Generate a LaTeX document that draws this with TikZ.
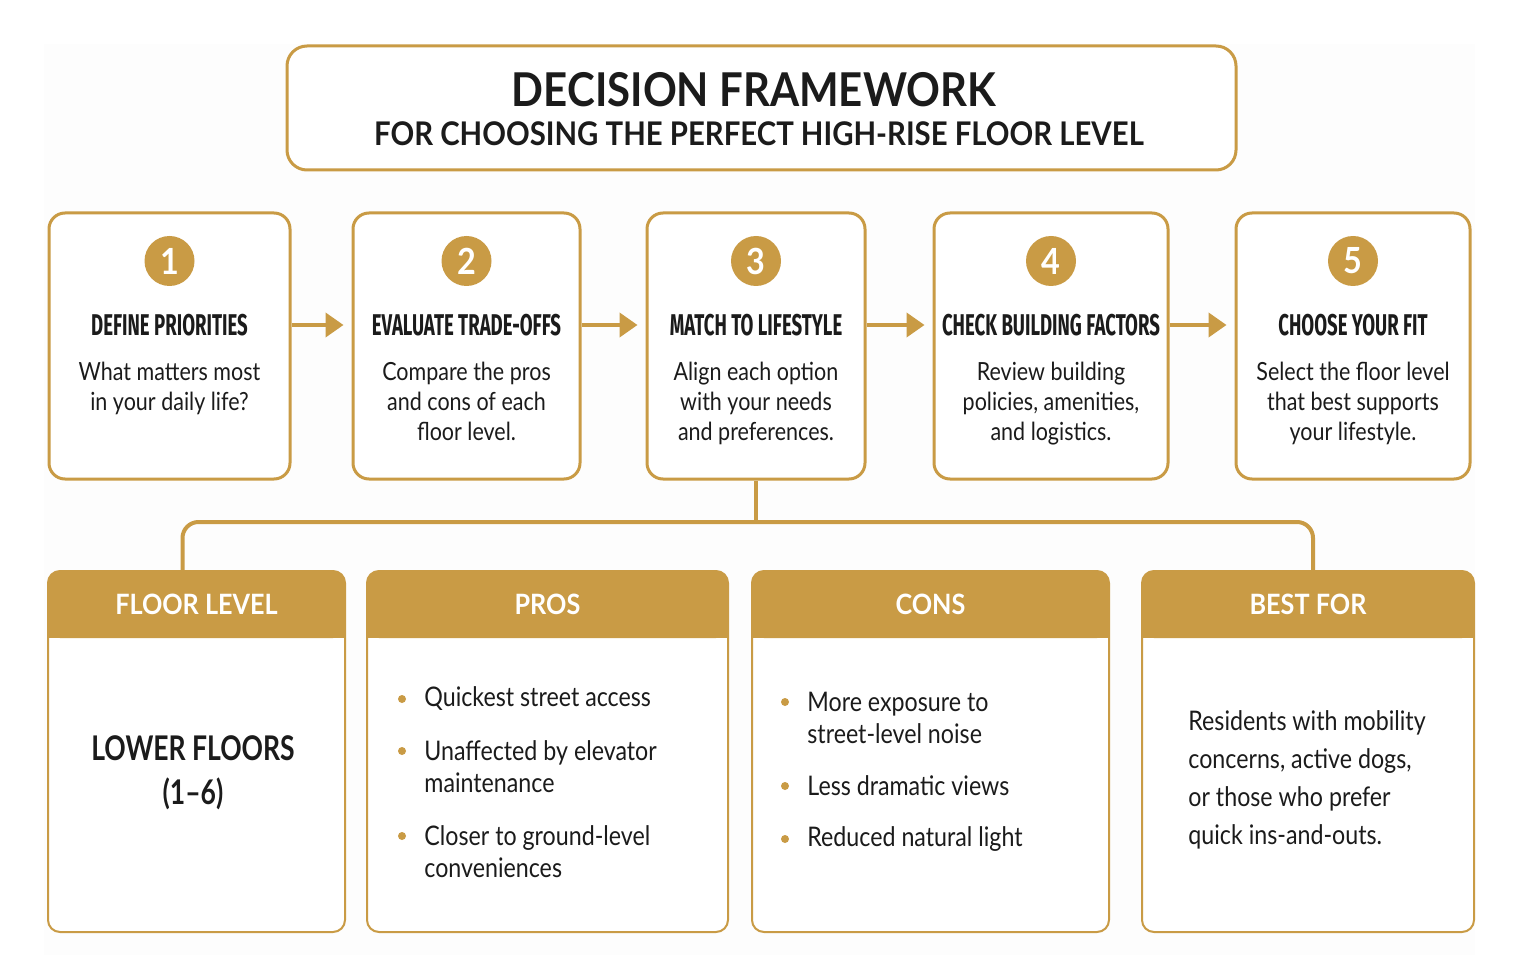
\documentclass[tikz,border=0pt]{standalone}
\usepackage{fontspec}
\setmainfont{Lato}
\newfontfamily\titlefnt[FakeStretch=0.9]{Lato}
\newfontfamily\narrowfnt[FakeStretch=0.78]{Lato}
\newfontfamily\headfnt[FakeStretch=0.62]{Fira Sans}
\newfontfamily\bodyfnt[FakeStretch=0.86]{Lato}
\usetikzlibrary{arrows.meta, calc, positioning}
\definecolor{gold}{HTML}{C99B45}
\definecolor{ink}{HTML}{1B1B1B}
\tikzset{
  stepbox/.style={draw=gold, line width=1.5pt, rounded corners=8pt, fill=white, minimum height=133pt},
  numdot/.style={circle, fill=gold, text=white, minimum size=25pt, inner sep=0pt, font=\titlefnt\bfseries\fontsize{18}{18}\selectfont},
  stephead/.style={text=ink, inner sep=0pt, font=\headfnt\bfseries\fontsize{15}{15}\selectfont},
  steptext/.style={text=ink, inner sep=0pt, align=center, anchor=north, font=\bodyfnt\fontsize{12.5}{15}\selectfont},
  flow/.style={draw=gold, line width=2pt, -{Triangle[length=9pt,width=12pt]}},
  link/.style={draw=gold, line width=2pt, rounded corners=8pt},
  colbody/.style={draw=gold, line width=1pt, rounded corners=6pt, fill=white, minimum height=180.5pt},
  colhead/.style={fill=gold, rounded corners=6pt, minimum height=33.5pt},
  bulletdot/.style={circle, fill=gold, minimum size=4pt, inner sep=0pt},
  bulletitem/.style={anchor=west, align=left, text=ink, inner sep=0pt, font=\bodyfnt\fontsize{13.5}{16}\selectfont},
}
\begin{document}
\begin{tikzpicture}[x=0.5pt, y=-0.5pt]
  \useasboundingbox (0,0) rectangle (1519,978);
  \fill[black!0.8] (44,44) rectangle (1475,955);

  % title
  \node[draw=gold, line width=1.5pt, rounded corners=10pt, fill=white, minimum width=474.5pt, minimum height=62pt] (ttl) at (761.5,108) {};
  \node[text=ink, font=\titlefnt\bfseries\fontsize{23.3}{23.3}\selectfont] (ttlmain) at (754,90) {DECISION FRAMEWORK};
  \node[text=ink, font=\titlefnt\bfseries\fontsize{16.3}{16.3}\selectfont] (ttlsub) at (759,134) {FOR CHOOSING THE PERFECT HIGH-RISE FLOOR LEVEL};

  % steps
  \foreach \i/\xc/\w/\hd/\tx in {
      1/169.5/120.5pt/{DEFINE PRIORITIES}/{What matters most\\in your daily life?},
      2/466.5/113.5pt/{EVALUATE TRADE-OFFS}/{Compare the pros\\and cons of each\\floor level.},
      3/756/109pt/{MATCH TO LIFESTYLE}/{Align each option\\with your needs\\and preferences.},
      4/1051/117pt/{CHECK BUILDING FACTORS}/{Review building\\policies, amenities,\\and logistics.},
      5/1353/117pt/{CHOOSE YOUR FIT}/{Select the floor level\\that best supports\\your lifestyle.}}
  {
    \node[stepbox, minimum width=\w] (s\i) at (\xc,346) {};
    \node[numdot] (n\i) at (\xc,261) {\i};
    \node[stephead] (h\i) at (\xc,325) {\hd};
    \node[steptext] (t\i) at (\xc,362) {\tx};
  }
  \foreach \a/\b in {1/2, 2/3, 3/4, 4/5}
    \draw[flow] (s\a.east |- h\a) -- ($(s\b.west |- h\a)+(-8,0)$);

  % table
  \foreach \c/\xc/\w/\hd in {
      1/196.5/148.5pt/{FLOOR LEVEL},
      2/547.5/180.5pt/{PROS},
      3/930.5/178.5pt/{CONS},
      4/1308/166pt/{BEST FOR}}
  {
    \node[colbody, minimum width=\w] (c\c) at (\xc,751.5) {};
    \node[colhead, minimum width=\w] (c\c h) at (\xc,604.5) {};
    \fill[gold] (c\c h.west) rectangle (c\c h.south east);
    \node[text=white, font=\titlefnt\bfseries\fontsize{14}{14}\selectfont] (c\c t) at (c\c h) {\hd};
  }
  \coordinate (bus) at (756,522);
  \coordinate (busL) at ($(c1h.north)+(-14,0)$);
  \coordinate (busR) at ($(c4h.north)+(5,0)$);
  \draw[link] (s3.south) -- (s3.south |- bus);
  \draw[link] (busL) -- (busL |- bus) -- (busR |- bus) -- (busR);

  \node[text=ink, align=center, font=\narrowfnt\bfseries\fontsize{17}{22}\selectfont] (lower) at (193,773) {LOWER FLOORS\\(1\textendash6)};

  \node[bulletdot] (p1d) at (402,699) {};
  \node[bulletitem] (p1) at (424,699) {Quickest street access};
  \node[bulletdot] (p2d) at (402,751) {};
  \node[bulletitem] (p2) at (424,767) {Unaffected by elevator\\maintenance};
  \node[bulletdot] (p3d) at (402,836) {};
  \node[bulletitem] (p3) at (424,852) {Closer to ground-level\\conveniences};

  \node[bulletdot] (k1d) at (785,702) {};
  \node[bulletitem] (k1) at (807,718) {More exposure to\\street-level noise};
  \node[bulletdot] (k2d) at (785,786) {};
  \node[bulletitem] (k2) at (807,786) {Less dramatic views};
  \node[bulletdot] (k3d) at (785,839) {};
  \node[bulletitem] (k3) at (807,839) {Reduced natural light};

  \node[bulletitem, font=\bodyfnt\fontsize{13.5}{19}\selectfont] (best) at (1188,780) {Residents with mobility\\concerns, active dogs,\\or those who prefer\\quick ins-and-outs.};
\end{tikzpicture}
\end{document}
